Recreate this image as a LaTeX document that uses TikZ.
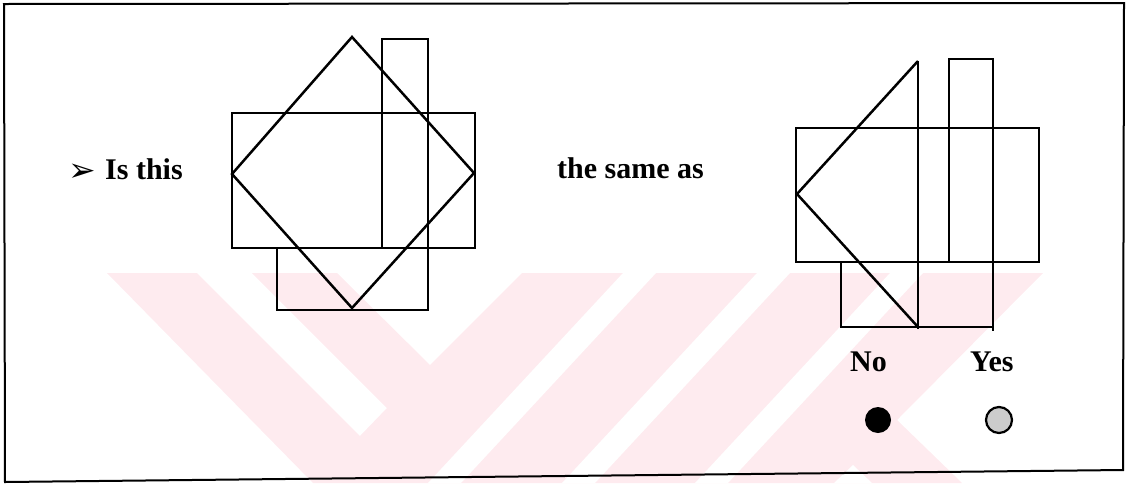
\documentclass[tikz,border=0pt]{standalone}
\usepackage{fontspec}
\setmainfont{Liberation Serif}
\newfontfamily\dingfont{DejaVu Sans}
\usepackage{tikz}
\usetikzlibrary{positioning}
\definecolor{wmpink}{RGB}{254,235,239}

\begin{document}
\begin{tikzpicture}[
    x=1pt, y=-1pt,
    fig/.style={draw, line width=2.5pt, line join=miter},
    frame/.style={draw, line width=2pt},
    lbl/.style={font=\fontsize{30}{36}\selectfont\bfseries, inner sep=0pt, anchor=base west},
    stripe/.style={fill=white, draw=none},
    radio/.style={circle, minimum size=26pt, inner sep=0pt}
]
    \useasboundingbox (0,0) rectangle (1130,483);

    % Watermark
    \fill[wmpink] (107,273) -- (197,273) -- (360,436) -- (387,408) -- (252,273)
        -- (337,273) -- (430,365) -- (522,273) -- (1043,273) -- (897,420)
        -- (962,483) -- (313,483) -- cycle;
    \fill[stripe] (623,273) -- (656,273) -- (461,483) -- (428,483) -- cycle;
    \fill[stripe] (757,273) -- (790,273) -- (595,483) -- (562,483) -- cycle;
    \fill[stripe] (890,273) -- (923,273) -- (728,483) -- (695,483) -- cycle;
    \fill[stripe] (853,465) -- (872,483) -- (834,483) -- cycle;

    % Frame
    \draw[frame] (4,4) -- (1124,3) -- (1123,470) -- (5,482) -- cycle;

    % Question
    \node[inner sep=0pt, anchor=base west, font=\dingfont\fontsize{33}{38}\selectfont] (bullet) at (68,181) {➢};
    \node[lbl] (isthis) at (105,179) {Is this};
    \node[lbl] (sameas) at (557,178) {the same as};

    % Left figure
    \draw[fig] (232,113) rectangle (475,248);
    \draw[fig] (352,37) -- (474,173) -- (352,308) -- (232,174) -- cycle;
    \draw[fig] (382,248) -- (382,39) -- (428,39) -- (428,310) -- (277,310) -- (277,248);

    % Right figure
    \draw[fig] (796,128) rectangle (1039,262);
    \draw[fig] (918,61) -- (797,194) -- (918,327);
    \draw[fig] (918,61) -- (918,329);
    \draw[fig] (949,262) -- (949,59) -- (993,59) -- (993,331);
    \draw[fig] (841,262) -- (841,327) -- (993,327);

    % Answers
    \node[lbl] (no) at (850,371) {No};
    \node[lbl] (yes) at (970,371) {Yes};
    \node[radio, fill=black] (nodot) at (878,420) {};
    \node[radio, draw, line width=2.2pt, fill=gray!40] (yesdot) at (999,420) {};
\end{tikzpicture}
\end{document}
